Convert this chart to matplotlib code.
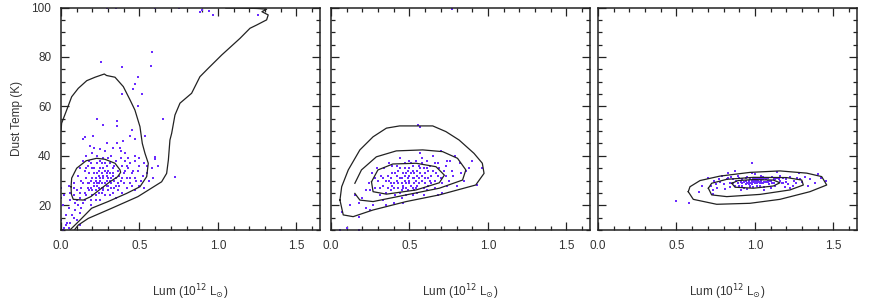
import numpy as np
import matplotlib
matplotlib.use("Agg")
import matplotlib.pyplot as plt
from matplotlib.ticker import MultipleLocator

# ---- scatter points (luminosity in 1e12 Lsun, dust temperature in K) ----
p1_lum = [0.25, 0.27, 0.23, 0.29, 0.21, 0.26, 0.31, 0.24, 0.28, 0.22,
          0.30, 0.19, 0.33, 0.25, 0.20, 0.27, 0.35, 0.17, 0.32, 0.24,
          0.15, 0.18, 0.29, 0.36, 0.22, 0.13, 0.38, 0.26, 0.34, 0.16,
          0.12, 0.20, 0.31, 0.40, 0.28, 0.14, 0.42, 0.23, 0.37, 0.10,
          0.19, 0.33, 0.44, 0.11, 0.08, 0.46, 0.27, 0.17, 0.30, 0.40,
          0.09, 0.13, 0.48, 0.35, 0.21, 0.45, 0.06, 0.15, 0.39, 0.25,
          0.07, 0.12, 0.50, 0.43, 0.18, 0.52, 0.05, 0.36, 0.47, 0.23,
          0.10, 0.04, 0.55, 0.41, 0.16, 0.53, 0.03, 0.32, 0.58, 0.28,
          0.02, 0.05, 0.01, 0.00, 0.00, 0.08, 0.11, 0.14, 0.20, 0.24,
          0.26, 0.29, 0.22, 0.31, 0.34, 0.19, 0.27, 0.25, 0.30, 0.21,
          0.37, 0.42, 0.39, 0.45, 0.49, 0.51, 0.47, 0.56, 0.43, 0.38,
          0.16, 0.13, 0.09, 0.18, 0.22, 0.26, 0.33, 0.35, 0.28, 0.24,
          0.253, 0.386, 0.573, 0.578, 0.488, 0.471, 0.457, 0.386, 0.514, 0.492,
          0.652, 0.227, 0.269, 0.354, 0.354, 0.45, 0.153, 0.14, 0.206, 0.29,
          0.355, 0.397, 0.44, 0.47, 0.535, 0.376, 0.185, 0.21, 0.25, 0.60,
          0.60, 0.62, 0.726, 0.588, 0.29, 0.885, 0.90, 0.97, 0.94, 1.255,
          0.35, 0.60, 0.75, 0.03, 0.06, 0.08, 0.00, 0.01, 0.12, 0.02,
          0.20, 0.23, 0.26, 0.29, 0.32, 0.18, 0.21, 0.24, 0.27, 0.30,
          0.14, 0.17, 0.20, 0.23, 0.33, 0.36, 0.39, 0.41, 0.28, 0.25,
          0.12, 0.15, 0.19, 0.10, 0.22, 0.31, 0.35, 0.44, 0.47, 0.50,
          0.16, 0.19, 0.12, 0.08, 0.06, 0.05, 0.27, 0.29, 0.32, 0.34,
          0.41, 0.44, 0.47, 0.38, 0.33, 0.30, 0.53, 0.55, 0.50, 0.42]
p1_temp = [30, 31, 29, 32, 28, 33, 30, 27, 29, 31,
           28, 30, 33, 35, 26, 27, 31, 29, 29, 32,
           25, 33, 36, 34, 24, 27, 30, 25, 27, 31,
           23, 35, 37, 33, 24, 21, 36, 37, 28, 26,
           22, 25, 31, 20, 24, 34, 39, 36, 26, 29,
           18, 19, 30, 38, 33, 28, 22, 34, 36, 22,
           16, 17, 36, 39, 38, 32, 19, 26, 38, 40,
           14, 13, 33, 41, 40, 37, 16, 40, 35, 42,
           11, 11, 10, 27, 23, 29, 32, 38, 41, 34,
           29, 30, 30, 33, 30, 27, 32, 31, 31, 29,
           32, 27, 25, 33, 34, 30, 26, 30, 35, 39,
           24, 30, 21, 26, 26, 37, 35, 28, 34, 25,
           78, 76, 76.4, 82, 72, 69, 67, 65, 65, 60,
           55, 55, 52.5, 54, 52, 50.5, 47.5, 47, 48, 45,
           45, 46, 48, 47, 48, 43, 44, 43, 42.6, 39.6,
           38.8, 36, 31.6, 31, 99.7, 98.3, 99, 97, 98.6, 97,
           100, 100, 100, 12, 13, 15, 14, 20, 12, 24,
           31, 33, 27, 28, 31, 29, 35, 29, 35, 34,
           29, 27, 24, 28, 32, 29, 31, 34, 37, 38,
           25, 22, 20, 22, 22, 24, 23, 29, 31, 28,
           35, 37, 35, 27, 25, 28, 26, 33, 27, 36,
           38, 37, 40, 42, 43, 39, 27, 36, 39, 31]

p2_lum = [0.50, 0.52, 0.48, 0.55, 0.46, 0.53, 0.58, 0.44, 0.51, 0.47,
          0.56, 0.42, 0.60, 0.49, 0.40, 0.54, 0.62, 0.38, 0.57, 0.45,
          0.36, 0.64, 0.52, 0.33, 0.67, 0.43, 0.59, 0.35, 0.70, 0.47,
          0.30, 0.72, 0.39, 0.63, 0.55, 0.28, 0.75, 0.41, 0.66, 0.50,
          0.26, 0.78, 0.34, 0.61, 0.45, 0.24, 0.80, 0.31, 0.68, 0.58,
          0.22, 0.83, 0.37, 0.73, 0.52, 0.29, 0.85, 0.20, 0.76, 0.44,
          0.18, 0.88, 0.33, 0.65, 0.40, 0.27, 0.82, 0.15, 0.71, 0.57,
          0.50, 0.53, 0.47, 0.54, 0.49, 0.51, 0.45, 0.55, 0.48, 0.52,
          0.60, 0.42, 0.38, 0.62, 0.44, 0.57, 0.40, 0.64, 0.36, 0.59,
          0.553, 0.57, 0.77, 0.06, 0.10, 0.18, 0.068, 0.18, 0.93, 0.96,
          0.86, 0.90, 0.79, 0.70, 0.25, 0.22, 0.12, 0.35, 0.46, 0.68,
          0.46, 0.50, 0.53, 0.43, 0.56, 0.61, 0.39, 0.66, 0.32, 0.74,
          0.48, 0.50, 0.45, 0.53, 0.56, 0.58, 0.43, 0.41, 0.60, 0.62,
          0.46, 0.49, 0.52, 0.55, 0.47, 0.39, 0.37, 0.63, 0.65, 0.68,
          0.71, 0.73, 0.35, 0.33, 0.31, 0.28, 0.25, 0.69, 0.77, 0.74,
          0.42, 0.44, 0.51, 0.54, 0.58, 0.61, 0.66, 0.59, 0.48, 0.38]
p2_temp = [30, 31, 29, 32, 28, 33, 30, 31, 28, 32,
           29, 30, 33, 34, 27, 27, 31, 29, 35, 26,
           32, 29, 36, 28, 33, 34, 27, 25, 31, 37,
           30, 34, 33, 36, 25, 27, 30, 24, 27, 38,
           33, 32, 35, 38, 23, 29, 28, 24, 37, 39,
           26, 33, 37, 36, 24, 35, 30, 23, 38, 39,
           21, 35, 22, 40, 21, 20, 37, 24, 25, 41,
           32, 29, 30, 30, 31, 33, 29, 28, 27, 34,
           31, 32, 31, 28, 35, 33, 29, 32, 27, 35,
           52.5, 51.7, 99.3, 10, 11, 10, 17.4, 15.2, 28.2, 35,
           34, 38, 40, 42, 18, 19, 20, 20, 21, 24,
           33, 35, 26, 27, 36, 26, 36, 30, 32, 28,
           33, 29, 31, 31, 31, 32, 29, 33, 29, 34,
           27, 26, 27, 34, 35, 28, 30, 30, 34, 32,
           29, 32, 30, 31, 27, 31, 26, 35, 34, 38,
           36, 25, 37, 38, 37, 35, 37, 24, 24, 26]

p3_lum = [1.00, 1.02, 0.98, 1.05, 0.96, 1.03, 0.99, 1.07, 0.94, 1.01,
          1.10, 0.92, 1.08, 0.97, 1.12, 0.90, 1.04, 0.95, 1.15, 0.88,
          1.18, 0.86, 1.00, 1.20, 0.84, 1.06, 1.22, 0.82, 1.13, 0.93,
          1.25, 0.80, 1.16, 0.89, 1.27, 0.78, 1.10, 0.98, 1.30, 0.76,
          1.32, 0.74, 1.24, 0.85, 1.35, 0.72, 1.19, 0.91, 1.38, 0.81,
          1.00, 1.01, 0.99, 1.02, 0.97, 1.04, 0.96, 1.03, 0.98, 1.05,
          1.42, 1.45, 0.70, 0.73, 0.66, 1.40, 0.645, 0.73, 0.98, 0.87,
          0.50, 0.58, 1.28, 1.14, 0.83, 1.06, 0.95, 1.22, 1.34, 0.79,
          1.08, 0.94, 1.11, 0.92, 1.06, 1.09, 0.90, 1.13, 0.87, 1.17,
          1.00, 0.97, 1.03, 1.01, 0.95, 1.05, 0.93, 1.08, 0.99, 1.04,
          1.00, 1.01, 0.99, 1.02, 0.98, 1.03, 0.97, 1.04, 0.96, 1.06,
          1.07, 1.09, 1.11, 1.12, 0.94, 0.92, 0.91, 0.89, 1.14, 1.16,
          1.18, 1.20, 1.21, 0.86, 0.84, 0.83, 1.26, 1.29, 0.77, 0.75]
p3_temp = [29.5, 30, 29, 30.5, 28.5, 29, 31, 29.5, 30, 28,
           30, 29, 31, 27.5, 29, 28, 32, 31.5, 30.5, 30,
           31, 29, 32.5, 29.5, 27.5, 27.5, 31.5, 30.5, 28, 27,
           30, 28.5, 32, 32, 31, 29.5, 27, 33, 29.5, 27,
           31.5, 30, 28, 31.5, 30.5, 28, 27.5, 26, 29, 26.5,
           30, 29, 30, 29.5, 30.5, 29, 29.5, 30.5, 28.5, 29,
           31, 30, 31, 26, 28, 32.5, 25.5, 24.5, 37.2, 34,
           21.9, 21.1, 33, 33.5, 33, 26, 26.5, 27, 28, 32,
           30, 31, 31.5, 30.5, 31, 28.5, 31, 30.5, 28, 29,
           31, 28, 28, 30.5, 29, 31.5, 29.5, 29.5, 27.5, 30,
           29, 30, 29.5, 31, 30, 29.5, 29, 30.5, 30, 29.5,
           30.5, 30, 29, 30.5, 28.5, 28, 29.5, 29, 31, 30,
           29, 30.5, 28.5, 30.5, 29, 31, 29, 30.5, 30.5, 28.5]

# ---- contour levels ----
p1_c_inner_lum = [0.064, 0.068, 0.10, 0.16, 0.227, 0.28, 0.344, 0.376, 0.38, 0.36, 0.312, 0.25, 0.19, 0.142, 0.078, 0.066, 0.064]
p1_c_inner_temp = [27.5, 31, 35, 38, 39, 38.6, 37, 34.3, 33.3, 31.5, 29.5, 26.5, 23.5, 22.1, 22.4, 24.5, 27.5]
p1_c_mid_lum = [0.0, 0.004, 0.036, 0.068, 0.11, 0.164, 0.217, 0.276, 0.29, 0.344, 0.397, 0.44, 0.471, 0.503,
                0.518, 0.535, 0.556, 0.546, 0.503, 0.418, 0.30, 0.195, 0.121, 0.057]
p1_c_mid_temp = [50, 53.2, 58.5, 63.9, 67.3, 70.4, 71.8, 73.1, 72.5, 71.8, 68, 62.6, 58.5, 51.8,
                 45, 41, 37, 31.6, 27.5, 24.8, 21.5, 18.8, 14, 10]
p1_c_out_lum = [0.085, 0.11, 0.174, 0.323, 0.49, 0.641, 0.673, 0.684, 0.694, 0.705, 0.726, 0.758, 0.832,
                0.885, 0.938, 1.024, 1.14, 1.204, 1.246, 1.31, 1.32, 1.28, 1.31, 1.25, 1.15, 1.05]
p1_c_out_temp = [10, 12, 14.7, 18.8, 23.5, 29.5, 32.9, 38.3, 46.4, 49.1, 56.5, 61.3, 65.3,
                 72, 75.4, 80.8, 87.5, 91.6, 92.9, 95, 97, 98.3, 99.3, 99.6, 99.8, 99.8]

p2_c_out_lum = [0.057, 0.078, 0.141, 0.268, 0.479, 0.69, 0.922, 0.975, 0.964, 0.911, 0.816, 0.732, 0.648,
                0.437, 0.353, 0.268, 0.184, 0.11, 0.068, 0.057]
p2_c_out_temp = [22.1, 16.1, 15.4, 18.1, 21.5, 24.2, 28.2, 32.9, 37, 41, 46.4, 49.8, 52.1,
                 52.1, 51.2, 47.7, 42.4, 34.3, 27.5, 22.1]
p2_c_mid_lum = [0.152, 0.184, 0.268, 0.479, 0.69, 0.838, 0.859, 0.806, 0.711, 0.584, 0.416, 0.289, 0.194, 0.152]
p2_c_mid_temp = [24.8, 22.1, 21.5, 24.2, 26.9, 30.2, 34.3, 39, 41.7, 42.4, 42, 39.6, 34.3, 28.9]
p2_c_in_lum = [0.258, 0.268, 0.353, 0.542, 0.69, 0.722, 0.669, 0.542, 0.394, 0.299, 0.258]
p2_c_in_temp = [29.5, 25.5, 24.5, 26.2, 29.1, 32.2, 35.6, 37, 36.7, 34.3, 29.5]

p3_c_out_lum = [0.575, 0.607, 0.756, 0.968, 1.159, 1.35, 1.457, 1.425, 1.33, 1.159, 0.968, 0.777, 0.65, 0.586, 0.575]
p3_c_out_temp = [25.5, 22.4, 20.4, 20.8, 22.4, 25.5, 28.2, 31.6, 33, 33.9, 33.3, 31.8, 30, 27.5, 25.5]
p3_c_mid_lum = [0.703, 0.724, 0.82, 1.032, 1.223, 1.308, 1.298, 1.202, 0.99, 0.82, 0.724, 0.703]
p3_c_mid_temp = [26.9, 24.2, 23.5, 24.4, 26.2, 28.2, 30.2, 31.2, 31.3, 30.5, 28.9, 26.9]
p3_c_in_lum = [0.852, 0.873, 0.99, 1.117, 1.159, 1.117, 0.99, 0.893, 0.852]
p3_c_in_temp = [28.9, 27.3, 26.9, 27.8, 29.1, 30.2, 30.4, 30, 28.9]

plt.rcParams['font.family'] = ['Liberation Sans', 'DejaVu Sans']

fig = plt.figure(figsize=(8.72, 3.01), dpi=100)
lefts = [61 / 872, 331 / 872, 598 / 872]
width = 259 / 872
bottom = 71 / 301
height = 222.5 / 301

panels = [
    (p1_lum, p1_temp, [(p1_c_inner_lum, p1_c_inner_temp), (p1_c_mid_lum, p1_c_mid_temp), (p1_c_out_lum, p1_c_out_temp)]),
    (p2_lum, p2_temp, [(p2_c_out_lum, p2_c_out_temp), (p2_c_mid_lum, p2_c_mid_temp), (p2_c_in_lum, p2_c_in_temp)]),
    (p3_lum, p3_temp, [(p3_c_out_lum, p3_c_out_temp), (p3_c_mid_lum, p3_c_mid_temp), (p3_c_in_lum, p3_c_in_temp)]),
]

pt_color = '#6a2bff'
txt_color = '#333333'

for i, (lum, temp, contours) in enumerate(panels):
    ax = fig.add_axes([lefts[i], bottom, width, height])
    ax.scatter(lum, temp, s=4.5, marker='s', color=pt_color, linewidths=0, zorder=2)
    for cx, cy in contours:
        ax.plot(cx, cy, color='#222222', lw=0.9, zorder=3)
    ax.set_xlim(0, 1.65)
    ax.set_ylim(10, 100)
    ax.xaxis.set_major_locator(MultipleLocator(0.5))
    ax.xaxis.set_minor_locator(MultipleLocator(0.1))
    ax.yaxis.set_major_locator(MultipleLocator(20))
    ax.yaxis.set_minor_locator(MultipleLocator(5))
    ax.tick_params(which='both', direction='in', top=True, right=True, colors='#222222',
                   labelcolor=txt_color, labelsize=8.5, width=0.9)
    ax.tick_params(which='major', length=6, pad=7)
    ax.tick_params(which='minor', length=3)
    for sp in ax.spines.values():
        sp.set_linewidth(1.1)
        sp.set_color('#222222')
    ax.set_xticks([0, 0.5, 1.0, 1.5])
    ax.set_xticklabels(['0.0', '0.5', '1.0', '1.5'])
    ax.set_xlabel(r'Lum (10$^{12}$ L$_{\odot}$)', fontsize=8.5, color=txt_color, labelpad=22)
    if i == 0:
        ax.set_ylabel('Dust Temp (K)', fontsize=8.5, color=txt_color, labelpad=6)
    else:
        ax.set_yticklabels([])

fig.savefig('out.png', dpi=100)
